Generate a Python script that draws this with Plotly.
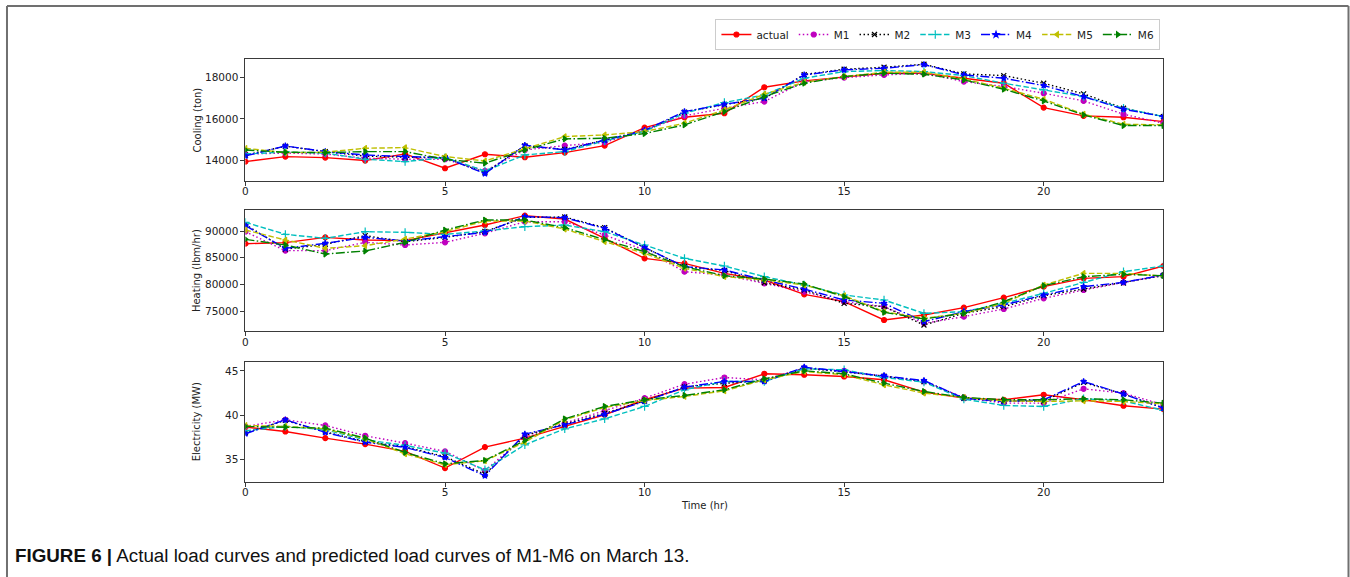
import plotly.graph_objects as go

hours = list(range(24))

# Cooling (ton)
cool_actual = [13935, 14178, 14130, 13985, 14307, 13612, 14290, 14145, 14370, 14710, 15580, 16083,
               16277, 17537, 17844, 18037, 18215, 18215, 17973, 17730, 16552, 16148, 16083, 15873]
cool_m1 = [14300, 14350, 14300, 14100, 14050, 14050, 13483, 14500, 14710, 14870, 15450, 16148,
           16520, 16842, 17811, 18005, 18134, 18215, 17811, 17570, 17246, 16875, 16229, 15793]
cool_m2 = [14250, 14680, 14420, 14200, 14150, 14120, 13400, 14700, 14520, 14980, 15400, 16330,
           16700, 17000, 18150, 18410, 18505, 18650, 18183, 18102, 17730, 17214, 16520, 16116]
cool_m3 = [14300, 14400, 14350, 14050, 13935, 14130, 13483, 14258, 14420, 14937, 15400, 16277,
           16794, 17165, 17973, 18296, 18345, 18296, 18102, 17730, 17408, 17085, 16520, 16116]
cool_m4 = [14210, 14694, 14420, 14258, 14178, 14130, 13354, 14727, 14500, 14969, 15450, 16358,
           16713, 17004, 18134, 18377, 18457, 18635, 18134, 17973, 17618, 17085, 16471, 16116]
cool_m5 = [14581, 14370, 14388, 14581, 14614, 14178, 13968, 14549, 15146, 15227, 15389, 15793,
           16440, 17198, 17779, 18054, 18264, 18264, 17940, 17488, 16955, 16229, 15744, 15712]
cool_m6 = [14500, 14388, 14370, 14420, 14420, 14050, 13855, 14500, 15034, 15066, 15292, 15712,
           16358, 17085, 17730, 18054, 18215, 18167, 17892, 17440, 16875, 16197, 15680, 15680]

# Heating (lbm/hr)
heat_actual = [87625, 87813, 88813, 88313, 88188, 89688, 91125, 92875, 92250, 88625, 84875, 83938,
               82063, 80813, 78125, 76750, 73313, 74250, 75625, 77500, 79563, 81125, 81438, 83438]
heat_m1 = [89875, 86313, 86313, 87875, 87375, 87875, 89563, 91750, 91750, 89250, 86438, 82375,
           81750, 80188, 78625, 76750, 75813, 72688, 73938, 75375, 77375, 78938, 80375, 81750]
heat_m2 = [91200, 86600, 87500, 89125, 88000, 88800, 89900, 92563, 92625, 90625, 86875, 83300,
           82600, 80300, 78938, 76438, 75813, 72375, 74563, 75813, 77875, 79125, 80250, 81625]
heat_m3 = [91625, 89375, 88625, 89875, 89750, 89375, 90000, 90813, 91125, 89875, 87375, 84875,
           83438, 81438, 79875, 78000, 77063, 74563, 74875, 76438, 78313, 80375, 82375, 83438]
heat_m4 = [91000, 86750, 87688, 88813, 88125, 88938, 89750, 92688, 92500, 90500, 86875, 83313,
           82688, 80813, 79125, 77063, 76438, 73000, 74875, 76125, 78000, 79563, 80375, 81750]
heat_m5 = [90188, 88313, 86750, 87250, 88500, 89875, 91875, 91875, 90375, 88000, 85813, 83000,
           81438, 80813, 79875, 77875, 74875, 73625, 74563, 76438, 79875, 82063, 82063, 81563]
heat_m6 = [88438, 87375, 85688, 86250, 87875, 90188, 92063, 92063, 90625, 88438, 86125, 83313,
           81625, 81000, 80063, 77688, 74750, 73500, 74563, 76750, 79750, 81438, 81875, 81625]

# Electricity (MW)
elec_actual = [38.64, 38.15, 37.40, 36.72, 35.89, 34.00, 36.38, 37.40, 38.72, 40.04, 41.74, 43.06,
               43.13, 44.68, 44.57, 44.38, 44.00, 42.60, 41.92, 41.74, 42.30, 41.74, 41.06, 40.68]
elec_m1 = [38.72, 39.47, 38.83, 37.66, 36.83, 35.89, 33.70, 37.58, 39.09, 40.50, 41.92, 43.50,
           44.26, 44.00, 45.32, 45.02, 44.38, 43.81, 42.00, 41.36, 41.36, 42.98, 42.49, 41.17]
elec_m2 = [38.00, 39.40, 38.10, 37.00, 36.40, 35.30, 33.30, 37.70, 39.00, 40.20, 41.60, 43.20,
           43.60, 43.90, 45.30, 44.90, 44.40, 43.80, 41.90, 41.60, 41.60, 43.70, 42.40, 40.80]
elec_m3 = [38.23, 38.72, 38.34, 37.21, 36.57, 35.70, 33.81, 36.64, 38.45, 39.58, 40.98, 42.87,
           43.81, 43.81, 45.25, 45.13, 44.26, 43.74, 41.81, 41.09, 40.98, 41.85, 41.62, 40.53]
elec_m4 = [37.89, 39.47, 38.04, 36.94, 36.34, 35.20, 33.13, 37.85, 38.90, 40.10, 41.55, 43.17,
           43.81, 43.81, 45.43, 44.94, 44.49, 43.92, 41.92, 41.55, 41.74, 43.81, 42.38, 40.79]
elec_m5 = [38.83, 38.72, 38.45, 37.32, 35.62, 34.38, 34.83, 36.94, 39.47, 40.87, 41.66, 42.11,
           42.75, 44.00, 44.94, 44.57, 43.43, 42.49, 42.00, 41.62, 41.55, 41.62, 41.55, 41.28]
elec_m6 = [38.72, 38.64, 38.53, 37.40, 35.77, 34.49, 34.87, 37.13, 39.58, 40.98, 41.74, 42.23,
           42.87, 44.11, 45.02, 44.68, 43.62, 42.68, 42.00, 41.74, 41.74, 41.85, 41.74, 41.36]

names = ["actual", "M1", "M2", "M3", "M4", "M5", "M6"]
x_ticks = [0, 5, 10, 15, 20]
panel_titles = ["Cooling (ton)", "Heating (lbm/hr)", "Electricity (MW)"]
y_ticks = [[14000, 16000, 18000], [75000, 80000, 85000, 90000], [35, 40, 45]]
y_ranges = [[13010, 18890], [71250, 93940], [32.46, 46.05]]

panels = [
    [cool_actual, cool_m1, cool_m2, cool_m3, cool_m4, cool_m5, cool_m6],
    [heat_actual, heat_m1, heat_m2, heat_m3, heat_m4, heat_m5, heat_m6],
    [elec_actual, elec_m1, elec_m2, elec_m3, elec_m4, elec_m5, elec_m6],
]

W, H = 1350, 577
colors = ["#ff0000", "#bf00bf", "#000000", "#00bfbf", "#0000ff", "#bfbf00", "#008000"]
dashes = ["solid", "1.5px,2.5px", "1.5px,2.5px", "5.5px,2.4px", "9px,2.4px,1.5px,2.4px",
          "5.5px,2.4px", "9px,2.4px,1.5px,2.4px"]
symbols = ["circle", "circle", "x-thin-open", "cross-thin-open", "star", "triangle-left", "triangle-right"]
msizes = [5, 5, 5, 6, 4.5, 5, 5]

# pixel layout
x0, x1 = 243, 1163
y_px = [(59.3, 180.7), (210, 331), (361.7, 481.7)]

fig = go.Figure()
for p, series in enumerate(panels):
    xa = "x" if p == 0 else f"x{p+1}"
    ya = "y" if p == 0 else f"y{p+1}"
    for i, vals in enumerate(series):
        fig.add_trace(go.Scatter(
            x=hours, y=vals, mode="lines+markers", name=names[i],
            xaxis=xa, yaxis=ya, showlegend=(p == 0), legendrank=i,
            line=dict(color=colors[i], width=1.4, dash=dashes[i]),
            marker=dict(color=colors[i], size=msizes[i], symbol=symbols[i],
                        line=dict(color=colors[i], width=1.2)),
        ))

axis_common = dict(showline=True, mirror=True, linecolor="#3a3a3a", linewidth=1,
                   ticks="outside", ticklen=4, tickcolor="#3a3a3a", showgrid=False,
                   zeroline=False, tickformat="d",
                   tickfont=dict(family="DejaVu Sans", size=10.5, color="#222"))

layout = dict(
    width=W, height=H, margin=dict(l=0, r=0, t=0, b=0),
    paper_bgcolor="white", plot_bgcolor="white",
    legend=dict(orientation="h", x=1160 / W, xanchor="right", y=1 - 19 / H, yanchor="top",
                bordercolor="#cccccc", borderwidth=1, bgcolor="white",
                font=dict(family="DejaVu Sans", size=10.5, color="#222"),
                itemwidth=30, tracegroupgap=0),
    showlegend=True,
)
for p in range(3):
    sfx = "" if p == 0 else str(p + 1)
    top, bot = y_px[p]
    layout["xaxis" + sfx] = dict(domain=[x0 / W, x1 / W], range=[0, 23], tickvals=x_ticks,
                                 anchor="y" + sfx, ticklabelstandoff=-3, **axis_common)
    layout["yaxis" + sfx] = dict(domain=[1 - bot / H, 1 - top / H], range=y_ranges[p],
                                 tickvals=y_ticks[p], anchor="x" + sfx, **axis_common)
fig.update_layout(**layout)

annotations = []
for p in range(3):
    top, bot = y_px[p]
    annotations.append(dict(text=panel_titles[p], xref="paper", yref="paper",
                            x=194 / W, y=1 - (top + bot) / 2 / H, textangle=-90,
                            xanchor="center", yanchor="middle",
                            showarrow=False, font=dict(family="DejaVu Sans", size=10, color="#222")))
annotations.append(dict(text="Time (hr)", xref="paper", yref="paper", x=(x0 + x1) / 2 / W,
                        y=1 - 505 / H, xanchor="center", yanchor="middle", showarrow=False,
                        font=dict(family="DejaVu Sans", size=10, color="#222")))
annotations.append(dict(text="<b>FIGURE 6 |</b> Actual load curves and predicted load curves of M1-M6 on March 13.",
                        xref="paper", yref="paper", x=10 / W, y=1 - 555 / H, xanchor="left",
                        yanchor="middle",
                        showarrow=False, font=dict(family="Liberation Sans", size=18.8, color="#111")))
fig.update_layout(annotations=annotations)

frame_color = "#707070"
shapes = [
    dict(type="line", xref="paper", yref="paper", x0=4 / W, x1=4 / W, y0=0, y1=1 - 6 / H,
         line=dict(color=frame_color, width=2)),
    dict(type="line", xref="paper", yref="paper", x0=4 / W, x1=1348.5 / W, y0=1 - 6 / H, y1=1 - 6 / H,
         line=dict(color=frame_color, width=2)),
    dict(type="line", xref="paper", yref="paper", x0=1348.5 / W, x1=1348.5 / W, y0=0, y1=1 - 6 / H,
         line=dict(color=frame_color, width=2)),
]
fig.update_layout(shapes=shapes)

fig.write_html("out.html")
